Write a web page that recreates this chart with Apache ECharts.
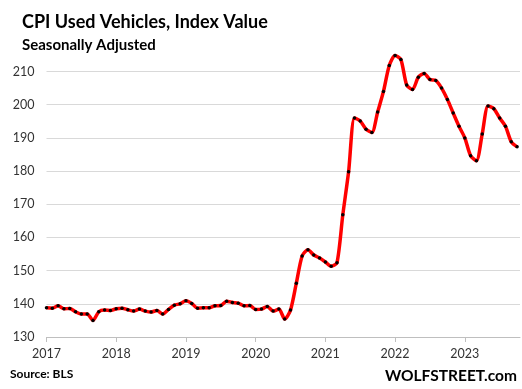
<!DOCTYPE html>
<html>
<head>
<meta charset="utf-8">
<script src="https://cdn.jsdelivr.net/npm/echarts@6/dist/echarts.min.js"></script>
<style>
html,body{margin:0;padding:0;background:#fff;}
#chart{width:522px;height:389px;}
</style>
</head>
<body>
<div id="chart"></div>
<script>
// Monthly CPI Used Vehicles index (SA), Jan 2017 .. Oct 2023
const startYear = 2017;
const cpiValues = [
  138.8, 138.7, 139.4, 138.5, 138.6, 137.6, 136.9, 136.9, 135.0, 137.6, 138.1, 138.0,
  138.5, 138.7, 138.2, 137.8, 138.4, 137.8, 137.5, 138.0, 136.9, 138.3, 139.6, 140.0,
  140.9, 140.1, 138.7, 138.8, 138.8, 139.4, 139.5, 140.8, 140.4, 140.2, 139.4, 139.5,
  138.3, 138.4, 139.2, 137.8, 138.4, 135.4, 138.1, 146.2, 154.4, 156.3, 154.7, 153.8,
  152.6, 151.3, 152.4, 166.8, 179.8, 196.0, 195.1, 192.6, 191.6, 197.8, 204.0, 211.8,
  214.8, 213.6, 205.9, 204.6, 208.3, 209.4, 207.6, 207.3, 205.0, 201.6, 197.5, 193.5,
  190.0, 184.6, 183.1, 191.2, 199.6, 198.8, 196.0, 193.5, 188.8, 187.3
];
const yearTicks = ['2017', '2018', '2019', '2020', '2021', '2022', '2023'];
const yTicks = [130, 140, 150, 160, 170, 180, 190, 200, 210];

const tickPositions = yearTicks.map(y => (Number(y) - startYear) * 12);
const seriesData = cpiValues.map((v, i) => [i, v]);

const chart = echarts.init(document.getElementById('chart'), null, {renderer: 'canvas'});
const font = 'Lato, "Liberation Sans", sans-serif';
chart.setOption({
  animation: false,
  backgroundColor: '#ffffff',
  title: [
    {text: 'CPI Used Vehicles, Index Value', left: 22, top: 13, padding: 0,
     textStyle: {fontFamily: font, fontWeight: 'bold', fontSize: 18, color: '#000'}},
    {text: 'Seasonally Adjusted', left: 22, top: 38, padding: 0,
     textStyle: {fontFamily: font, fontWeight: 'bold', fontSize: 15, color: '#000'}},
    {text: 'Source: BLS', left: 10, top: 368, padding: 0,
     textStyle: {fontFamily: font, fontWeight: 'bold', fontSize: 12, color: '#000'}},
    {text: 'WOLFSTREET.com', right: 5, top: 368, padding: 0,
     textStyle: {fontFamily: font, fontWeight: 'bold', fontSize: 15.5, color: '#000'}}
  ],
  grid: {left: 46.5, right: 2, top: 71.5, bottom: 52},
  xAxis: {
    type: 'value', min: 0, max: cpiValues.length - 0.5,
    axisLine: {show: true, lineStyle: {color: '#bfbfbf', width: 1}},
    axisTick: {show: true, customValues: tickPositions, length: 5, lineStyle: {color: '#bfbfbf'}},
    axisLabel: {customValues: tickPositions, margin: 10, fontFamily: font, fontSize: 12.5, color: '#333',
      formatter: v => yearTicks[Math.round(v / 12)]},
    splitLine: {show: false}
  },
  yAxis: {
    type: 'value', min: yTicks[0], max: yTicks[yTicks.length - 1], interval: 10,
    axisLine: {show: false}, axisTick: {show: false},
    axisLabel: {margin: 12, fontFamily: font, fontSize: 12.5, color: '#333'},
    splitLine: {lineStyle: {color: '#d9d9d9', width: 1}}
  },
  series: [{
    type: 'line', data: seriesData, clip: false, smooth: 0.25,
    lineStyle: {color: '#ff0000', width: 3.5},
    symbol: 'circle', symbolSize: 3.5,
    itemStyle: {color: '#000000', borderWidth: 0}
  }]
});
</script>
</body>
</html>
